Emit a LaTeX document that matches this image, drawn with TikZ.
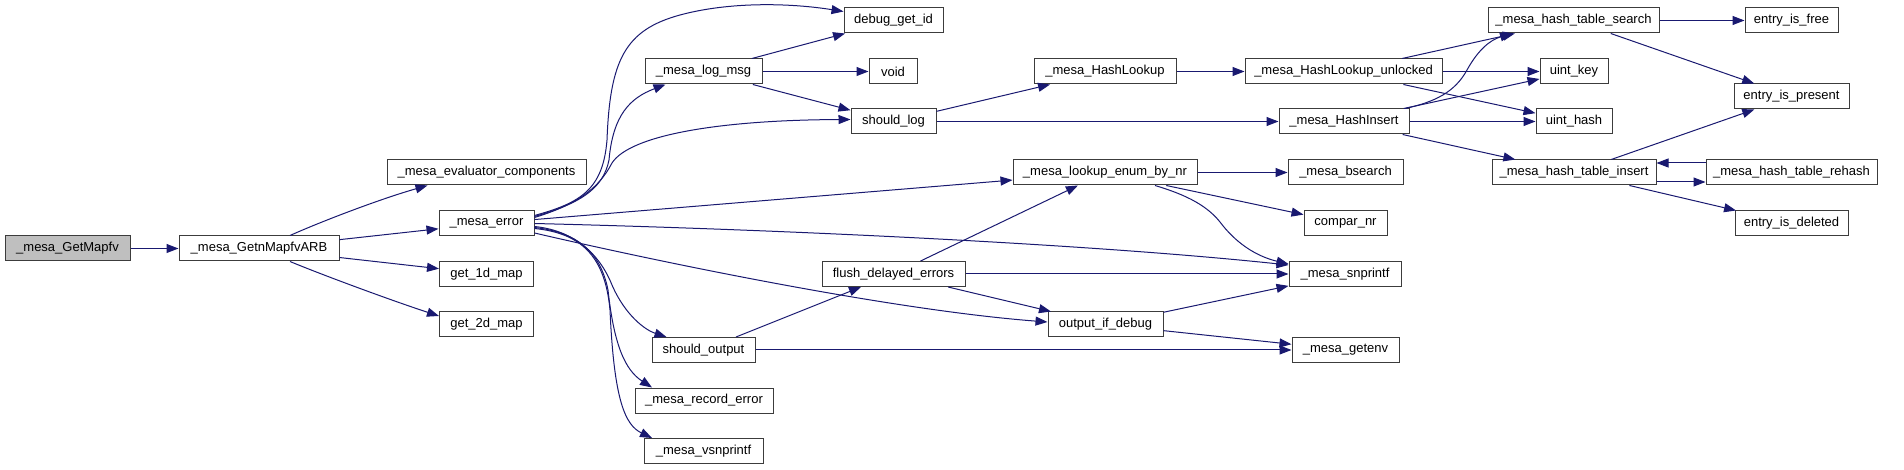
\documentclass[tikz,border=0pt]{standalone}
\usepackage{fontspec}
\setmainfont{Liberation Sans}
\usetikzlibrary{arrows.meta}
\definecolor{edgec}{RGB}{25,25,112}
\definecolor{boxc}{RGB}{60,60,60}
\definecolor{rootfill}{RGB}{191,191,191}
\tikzset{
  fnbox/.style={draw=boxc, line width=1pt, fill=white, rectangle, inner sep=0pt,
    minimum height=25pt, font=\fontsize{13pt}{15pt}\selectfont},
  calledge/.style={draw=edgec, line width=1pt, -{Triangle[length=12pt,width=9pt]}}
}
\begin{document}
\begin{tikzpicture}[x=1pt,y=-1pt]
\useasboundingbox (0,0) rectangle (1904,470);
% nodes
\node[fnbox, fill=rootfill, minimum width=125pt] (getmap) at (67.5,248.5) {\_mesa\_GetMapfv};
\node[fnbox, minimum width=160pt] (getn) at (259,248.5) {\_mesa\_GetnMapfvARB};
\node[fnbox, minimum width=199pt] (evalc) at (486.5,172.5) {\_mesa\_evaluator\_components};
\node[fnbox, minimum width=95pt] (err) at (486.5,223.5) {\_mesa\_error};
\node[fnbox, minimum width=94pt] (get1d) at (486.5,274) {get\_1d\_map};
\node[fnbox, minimum width=94pt] (get2d) at (486.5,324.5) {get\_2d\_map};
\node[fnbox, minimum width=117pt] (logmsg) at (703.5,71.5) {\_mesa\_log\_msg};
\node[fnbox, minimum width=99pt] (dbg) at (893.5,20.5) {debug\_get\_id};
\node[fnbox, minimum width=48pt] (void) at (893,71.5) {void};
\node[fnbox, minimum width=85pt] (shlog) at (893.5,121.5) {should\_log};
\node[fnbox, minimum width=103pt] (shout) at (703.5,350) {should\_output};
\node[fnbox, minimum width=138pt] (recerr) at (704,400.5) {\_mesa\_record\_error};
\node[fnbox, minimum width=119pt] (vsn) at (703.5,451) {\_mesa\_vsnprintf};
\node[fnbox, minimum width=143pt] (flush) at (893.5,274) {flush\_delayed\_errors};
\node[fnbox, minimum width=142pt] (hlookup) at (1105,71.5) {\_mesa\_HashLookup};
\node[fnbox, minimum width=197pt] (hlu) at (1343.5,71.5) {\_mesa\_HashLookup\_unlocked};
\node[fnbox, minimum width=130pt] (hins) at (1344,121.5) {\_mesa\_HashInsert};
\node[fnbox, minimum width=184pt] (lenum) at (1105,172.5) {\_mesa\_lookup\_enum\_by\_nr};
\node[fnbox, minimum width=115pt] (bsearch) at (1345.5,172.5) {\_mesa\_bsearch};
\node[fnbox, minimum width=83pt] (compar) at (1345.5,223.5) {compar\_nr};
\node[fnbox, minimum width=112pt] (snpr) at (1345,274) {\_mesa\_snprintf};
\node[fnbox, minimum width=115pt] (oid) at (1105.5,324.5) {output\_if\_debug};
\node[fnbox, minimum width=107pt] (getenv) at (1345.5,350) {\_mesa\_getenv};
\node[fnbox, minimum width=171pt] (hts) at (1573.5,20.5) {\_mesa\_hash\_table\_search};
\node[fnbox, minimum width=93pt] (eif) at (1791.5,20.5) {entry\_is\_free};
\node[fnbox, minimum width=68pt] (ukey) at (1574,71.5) {uint\_key};
\node[fnbox, minimum width=76pt] (uhash) at (1574,121.5) {uint\_hash};
\node[fnbox, minimum width=115pt] (eip) at (1791.5,96.5) {entry\_is\_present};
\node[fnbox, minimum width=164pt] (hti) at (1574,172.5) {\_mesa\_hash\_table\_insert};
\node[fnbox, minimum width=171pt] (rehash) at (1791.5,172.5) {\_mesa\_hash\_table\_rehash};
\node[fnbox, minimum width=113pt] (eid) at (1791.5,223.5) {entry\_is\_deleted};
% edges
\draw[calledge] (getmap) -- (getn);
\draw[calledge] ([xshift=31pt]getn.north) .. controls (320,222) and (380,199) .. ([xshift=-59pt]evalc.south);
\draw[calledge] (getn) -- (err);
\draw[calledge] (getn) -- (get1d);
\draw[calledge] ([xshift=31pt]getn.south) .. controls (320,274) and (390,300) .. ([yshift=8.5pt]get2d.west);
% from _mesa_error
\draw[calledge] ([yshift=8pt]err.east) .. controls (580,203) and (603,190) .. (607,140)
  .. controls (610,60) and (625,30) .. (680,15) .. controls (730,1.5) and (790,3) .. ([yshift=9pt]dbg.west);
\draw[calledge] ([yshift=7pt]err.east) .. controls (578,204) and (603,190) .. (609,160)
  .. controls (613,115) and (630,98) .. ([xshift=-38pt]logmsg.south);
\draw[calledge] ([yshift=6pt]err.east) .. controls (575,205) and (598,190) .. (612,163)
  .. controls (630,135) and (720,120) .. ([yshift=2pt]shlog.west);
\draw[calledge] (err) -- (lenum);
\draw[calledge] (err.east) .. controls (800,230) and (1100,245) .. ([yshift=9pt]snpr.west);
\draw[calledge] ([yshift=-9.5pt]err.east) .. controls (655,261) and (890,310) .. ([yshift=2.5pt]oid.west);
\draw[calledge] ([yshift=-3pt]err.east) .. controls (570,230) and (598,250) .. (612,285)
  .. controls (625,315) and (645,330) .. ([xshift=-37pt]shout.north);
\draw[calledge] ([yshift=-4pt]err.east) .. controls (575,232) and (600,250) .. (608,290)
  .. controls (614,345) and (625,370) .. ([xshift=-52pt]recerr.north);
\draw[calledge] ([yshift=-5pt]err.east) .. controls (580,233) and (605,255) .. (610,310)
  .. controls (614,400) and (625,425) .. ([xshift=-51.5pt]vsn.north);
% from _mesa_log_msg
\draw[calledge] (logmsg) -- (dbg);
\draw[calledge] (logmsg) -- (void);
\draw[calledge] (logmsg) -- (shlog);
% from should_log
\draw[calledge] (shlog) -- (hlookup);
\draw[calledge] (shlog) -- (hins);
% from should_output
\draw[calledge] (shout) -- (flush);
\draw[calledge] (shout) -- (getenv);
% from flush_delayed_errors
\draw[calledge] (flush) -- (lenum);
\draw[calledge] (flush) -- (snpr);
\draw[calledge] (flush) -- (oid);
% from _mesa_lookup_enum_by_nr
\draw[calledge] (lenum) -- (bsearch);
\draw[calledge] (lenum) -- (compar);
\draw[calledge] ([xshift=50pt]lenum.south) .. controls (1180,193) and (1205,203) .. (1220,222)
  .. controls (1235,242) and (1255,256) .. ([yshift=10pt]snpr.west);
% from output_if_debug
\draw[calledge] (oid) -- (snpr);
\draw[calledge] (oid) -- (getenv);
% hash functions
\draw[calledge] (hlookup) -- (hlu);
\draw[calledge] (hlu) -- (hts);
\draw[calledge] (hlu) -- (ukey);
\draw[calledge] (hlu) -- (uhash);
\draw[calledge] ([xshift=61pt]hins.north) .. controls (1435,102) and (1455,92) .. (1467,70)
  .. controls (1478,50) and (1490,40) .. ([xshift=-61.5pt]hts.south);
\draw[calledge] (hins) -- (ukey);
\draw[calledge] (hins) -- (uhash);
\draw[calledge] (hins) -- (hti);
\draw[calledge] (hts) -- (eif);
\draw[calledge] (hts) -- (eip);
\draw[calledge] (hti) -- (eip);
\draw[calledge] ([yshift=-9.5pt]hti.east) -- ([yshift=-9.5pt]rehash.west);
\draw[calledge] ([yshift=9.5pt]rehash.west) -- ([yshift=9.5pt]hti.east);
\draw[calledge] (hti) -- (eid);
\end{tikzpicture}
\end{document}
